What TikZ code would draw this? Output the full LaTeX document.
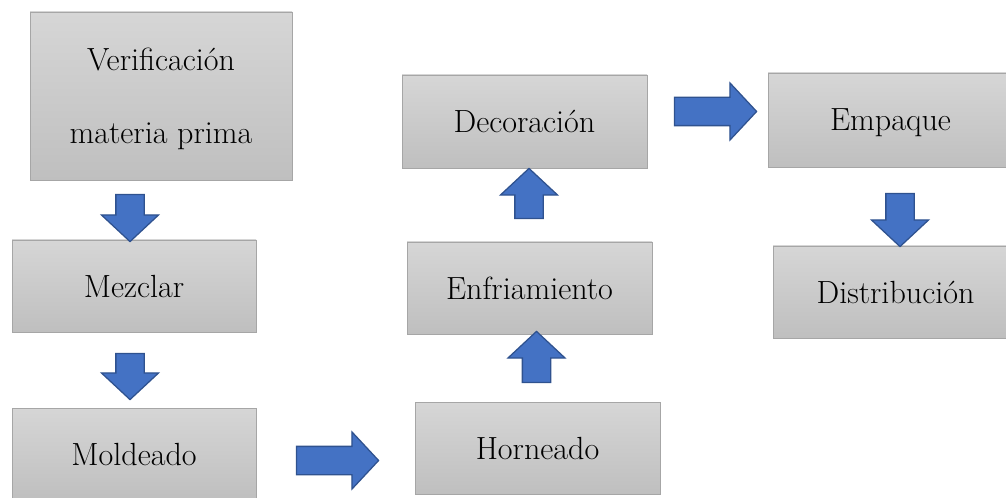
\documentclass[tikz,border=0pt]{standalone}
\usepackage{fontspec}
\usepackage{tikz}
\usetikzlibrary{positioning}
\usetikzlibrary{shapes.arrows}
\definecolor{boxtop}{HTML}{D6D6D6}
\definecolor{boxbot}{HTML}{BFBFBF}
\definecolor{boxline}{HTML}{A6A6A6}
\definecolor{arrowfill}{HTML}{4472C4}
\definecolor{arrowline}{HTML}{2F528F}
\newdimen\px
\px=0.025cm
\tikzset{
	paso/.style={
		rectangle,
		top color=boxtop,
		bottom color=boxbot,
		draw=boxline, line width=0.7pt,
		minimum width=245\px,
		minimum height=92\px,
		inner sep=0pt,
		text depth=0pt,
		align=center,
		font=\fontsize{22.8}{52}\selectfont},
	flecha/.style={
		single arrow,
		fill=arrowfill,
		draw=arrowline, line width=0.9pt,
		inner xsep=0pt,
		inner ysep=13.5\px,
		single arrow head extend=14.5\px,
		single arrow tip angle=94,
		single arrow head indent=0pt,
		minimum width=0pt,
		minimum height=#1\px},
}
\begin{document}
\begin{tikzpicture}[x=\px, y=-\px]
	\useasboundingbox (0,0) rectangle (1006,498);
	\clip (0,0) rectangle (1006,498);
	
	% pasos
	\node[paso, minimum width=262\px, minimum height=168\px] (verif) at (161,96) {Verificación\\materia prima};
	\node[paso, minimum width=244\px] (mezcla) at (134,286) {Mezclar};
	\node[paso, minimum width=244\px] (molde) at (134,454) {Moldeado};
	\node[paso] (horno) at (537.5,448.5) {Horneado};
	\node[paso] (frio) at (529.5,288) {Enfriamiento};
	\node[paso, minimum height=93\px] (deco) at (524.5,121.5) {Decoración};
	\node[paso, minimum height=94\px] (empaque) at (890.5,120) {Empaque};
	\node[paso] (distri) at (895.5,292) {Distribución};
	
	% flechas
	\node[flecha=47, rotate=-90] (f1) at (130,211.5) {};
	\node[flecha=46, rotate=-90] (f2) at (130,370) {};
	\node[flecha=82] (f3) at (331,460.5) {};
	\node[flecha=51, rotate=90] (f4) at (536.5,363.5) {};
	\node[flecha=50, rotate=90] (f5) at (529,200) {};
	\node[flecha=82] (f6) at (709,111.5) {};
	\node[flecha=53, rotate=-90] (f7) at (900,213.5) {};
	
\end{tikzpicture}
\end{document}
